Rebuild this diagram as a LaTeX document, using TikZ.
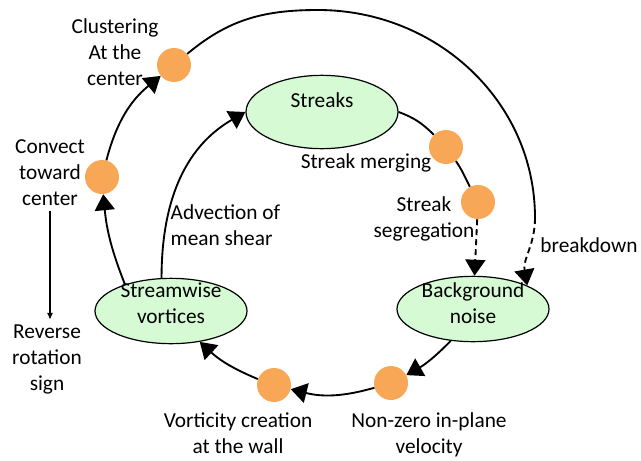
\documentclass[tikz,border=0pt]{standalone}
\usepackage{fontspec}
\setmainfont{Carlito}
\usetikzlibrary{arrows.meta}
\usetikzlibrary{shapes.geometric}

\definecolor{statefill}{RGB}{214,250,212}
\definecolor{dotorange}{RGB}{248,167,86}

\begin{document}
\begin{tikzpicture}[x=0.75pt, y=0.75pt,
    font=\fontsize{16}{19.5}\selectfont,
    state node/.style={ellipse, draw, fill=statefill, line width=0.9pt, minimum width=114pt, minimum height=49pt, inner sep=0pt},
    event dot/.style={circle, fill=dotorange, minimum size=25.5pt, inner sep=0pt},
    note/.style={align=center},
    link/.style={line width=1.4pt},
    flow/.style={link, -{Triangle[length=12pt,width=15pt]}},
    ]
  \useasboundingbox (0,0) rectangle (641,-460);

  \node[state node, minimum height=55pt] (streaks) at (322,-112) {};
  \node[state node] (sv) at (171,-311) {};
  \node[state node] (bg) at (473,-309) {};
  \node (streakstxt) at (322,-100) {Streaks};
  \node[note] (svtxt) at (171,-303) {Streamwise\\vortices};
  \node[note] (bgtxt) at (473,-303) {Background\\noise};

  \node[event dot] (clust) at (174,-65) {};
  \node[event dot] (conv) at (102,-177) {};
  \node[event dot] (merge) at (446,-147) {};
  \node[event dot] (seg) at (478,-202) {};
  \node[event dot] (nz) at (391,-383) {};
  \node[event dot] (vort) at (274,-385) {};

  \node[note] (clusttxt) at (115,-52) {Clustering\\At the\\center};
  \node[note] (convtxt) at (50,-173) {Convect\\toward\\center};
  \node[note] (revtxt) at (47,-359) {Reverse\\rotation\\sign};
  \node[align=left, anchor=west] (advtxt) at (166,-225) {Advection of\\mean shear};
  \node (mergetxt) at (366,-163) {Streak merging};
  \node[note] (segtxt) at (424,-219) {Streak\\segregation};
  \node (brktxt) at (589,-245) {breakdown};
  \node[note] (nztxt) at (429,-435) {Non-zero in-plane\\velocity};
  \node[note] (vorttxt) at (238,-433) {Vorticity creation\\at the wall};

  \coordinate (top) at (318,-10);
  \coordinate (brk) at (535,-218);

  % inner loop
  \draw[link] (streaks.east) to[out=-20,in=135] (merge);
  \draw[link] (merge) to[out=-55,in=118] (seg);
  \draw[flow, dash pattern=on 4.5pt off 3pt] (seg) -- (bg);
  \draw[flow] (bg.235) to[bend left=8] (nz);
  \draw[flow] (nz) to[bend left=15] (vort);
  \draw[flow] (vort) to[bend left=10] (sv.-47);
  \draw[flow] (sv.106) to[out=90,in=210] (streaks.west);

  % outer loop
  \draw[flow] (sv.150) to[bend left=8] (conv);
  \draw[flow] (conv) to[bend left=18] (clust);
  \draw[link] (clust) to[out=40,in=180] (top) to[out=0,in=90] (brk);
  \draw[flow, dash pattern=on 4.5pt off 3pt] (brk) to[out=-90,in=100] (bg.north east);

  \draw[line width=0.8pt, -{Latex[length=5pt,width=4.5pt]}] (convtxt.south) -- (convtxt.south |- revtxt.north);
\end{tikzpicture}
\end{document}
